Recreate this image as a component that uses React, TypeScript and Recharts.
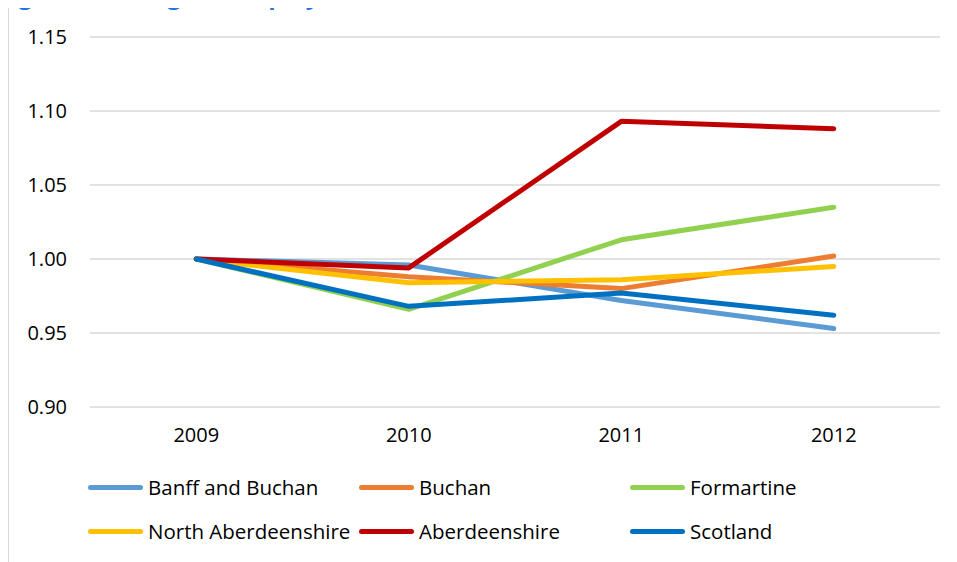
import React from "react";
import { LineChart, Line, XAxis, YAxis, CartesianGrid, Legend } from "recharts";

const years = ["2009", "2010", "2011", "2012"];
const banffAndBuchan = [1.0, 0.996, 0.972, 0.953];
const buchan = [1.0, 0.988, 0.98, 1.002];
const formartine = [1.0, 0.966, 1.013, 1.035];
const northAberdeenshire = [1.0, 0.984, 0.986, 0.995];
const aberdeenshire = [1.0, 0.994, 1.093, 1.088];
const scotland = [1.0, 0.968, 0.977, 0.962];
const yTicks = [0.9, 0.95, 1.0, 1.05, 1.1, 1.15];

const series = [
  { key: "banff", name: "Banff and Buchan", color: "#5B9BD5", values: banffAndBuchan },
  { key: "buchan", name: "Buchan", color: "#ED7D31", values: buchan },
  { key: "formartine", name: "Formartine", color: "#92D050", values: formartine },
  { key: "north", name: "North Aberdeenshire", color: "#FFC000", values: northAberdeenshire },
  { key: "aberdeenshire", name: "Aberdeenshire", color: "#C00000", values: aberdeenshire },
  { key: "scotland", name: "Scotland", color: "#0070C0", values: scotland },
];

const data = years.map((year, i) => {
  const row: Record<string, string | number> = { year };
  series.forEach((s) => (row[s.key] = s.values[i]));
  return row;
});

const FONT = "'Open Sans', sans-serif";

const renderLegend = (props: any) => {
  const names = series.map((s) => s.name);
  const items = [...(props.payload || [])].sort(
    (a: any, b: any) => names.indexOf(a.value) - names.indexOf(b.value)
  );
  return (
    <div style={{ display: "grid", gridTemplateColumns: "271px 271px 271px" }}>
      {items.map((entry: any) => (
        <div key={entry.value} style={{ display: "flex", alignItems: "center", height: 44 }}>
          <span
            style={{
              width: 55,
              height: 5,
              borderRadius: 3,
              background: entry.color,
              marginRight: 5,
              flexShrink: 0,
            }}
          />
          <span style={{ fontSize: 20.5, color: "#000", whiteSpace: "nowrap" }}>{entry.value}</span>
        </div>
      ))}
    </div>
  );
};

export default function App() {
  return (
    <div
      style={{
        position: "relative",
        margin: "-8px 0 0 -8px",
        width: 957,
        height: 562,
        overflow: "hidden",
        background: "#fff",
        fontFamily: FONT,
      }}
    >
      {/* title, mostly cut off at the top like the source */}
      <div
        style={{
          position: "absolute",
          left: -2,
          top: -17,
          fontSize: 24,
          lineHeight: 1,
          fontWeight: 700,
          color: "#2173e8",
          whiteSpace: "nowrap",
        }}
      >
        Figure 3: Change in employment, 2009-2012
      </div>

      {/* chart frame */}
      <div
        style={{
          position: "absolute",
          left: 8,
          top: 7,
          width: 1000,
          height: 600,
          border: "1px solid #d9d9d9",
        }}
      />

      <div style={{ position: "absolute", left: 0, top: 0 }}>
        <LineChart
          width={957}
          height={562}
          data={data}
          margin={{ top: 37, right: 17, bottom: 125, left: 0 }}
        >
          <CartesianGrid vertical={false} stroke="#d9d9d9" strokeWidth={1.5} />
          <XAxis
            dataKey="year"
            scale="band"
            height={30}
            axisLine={false}
            tickLine={false}
            tickMargin={15}
            tick={{ fontSize: 20, fill: "#000", fontFamily: FONT }}
          />
          <YAxis
            width={90}
            domain={[0.9, 1.15]}
            ticks={yTicks}
            axisLine={false}
            tickLine={false}
            tickMargin={17}
            tickFormatter={(v: number) => v.toFixed(2)}
            tick={{ fontSize: 20, fill: "#000", fontFamily: FONT }}
          />
          <Legend
            layout="horizontal"
            verticalAlign="middle"
            align="center"
            content={renderLegend}
            wrapperStyle={{ left: 88, top: 465, width: 813 }}
          />
          {series.map((s) => (
            <Line
              key={s.key}
              type="linear"
              dataKey={s.key}
              name={s.name}
              stroke={s.color}
              strokeWidth={5}
              strokeLinecap="round"
              strokeLinejoin="round"
              dot={false}
              activeDot={false}
              isAnimationActive={false}
            />
          ))}
        </LineChart>
      </div>
    </div>
  );
}
